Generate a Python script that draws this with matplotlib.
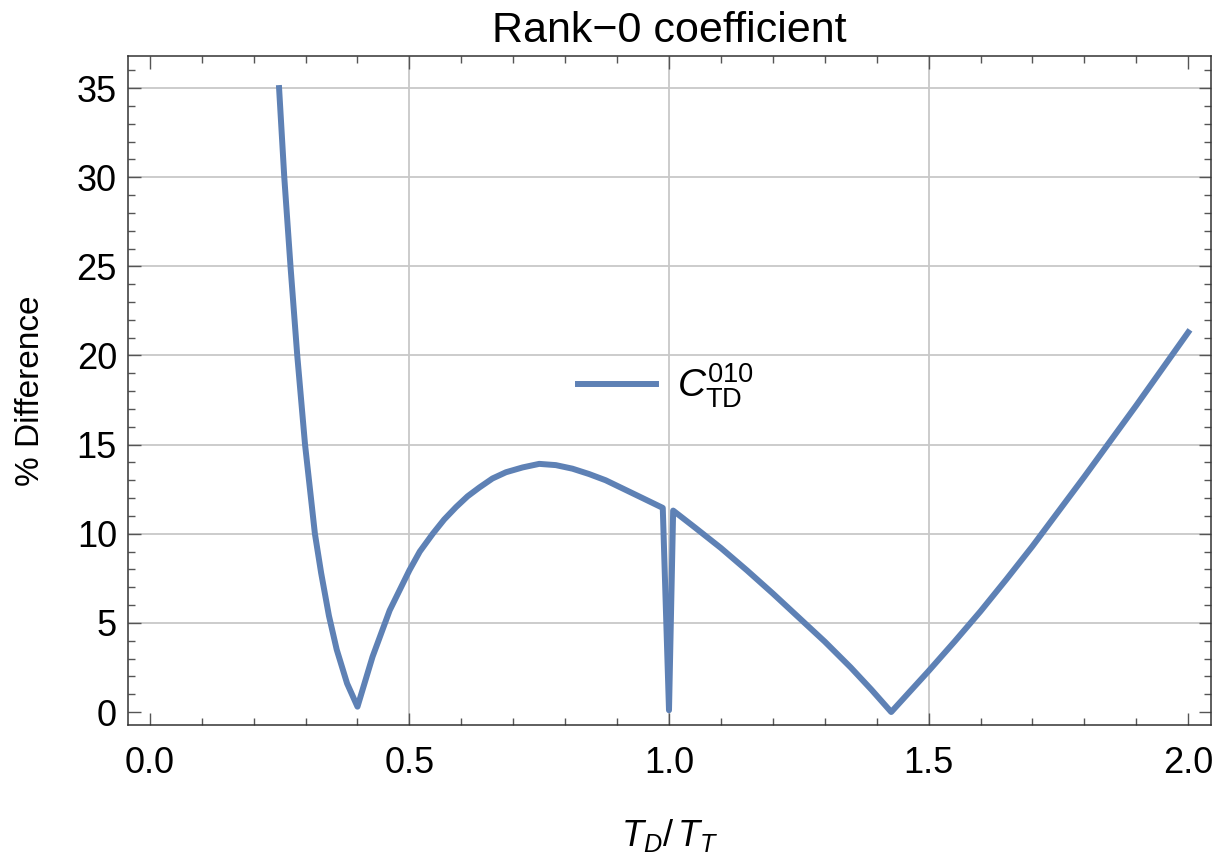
import matplotlib
matplotlib.use('Agg')
import matplotlib.pyplot as plt
from matplotlib.ticker import MultipleLocator, FormatStrFormatter

plt.rcParams['font.family'] = ['Liberation Sans', 'DejaVu Sans']
plt.rcParams['mathtext.fontset'] = 'custom'
plt.rcParams['mathtext.rm'] = 'Liberation Sans'
plt.rcParams['mathtext.it'] = 'Liberation Sans:italic'

# T_D / T_T ratio and % difference
ratio = [0.249, 0.259, 0.271, 0.284, 0.299, 0.318, 0.330, 0.345, 0.360, 0.380, 0.400,
         0.429, 0.462, 0.500, 0.520, 0.545, 0.567, 0.590, 0.612, 0.635, 0.660,
         0.686, 0.718, 0.750, 0.782, 0.814, 0.846, 0.878, 0.910, 0.942, 0.988,
         1.000, 1.008,
         1.050, 1.100, 1.150, 1.200, 1.250, 1.300, 1.350, 1.390, 1.428,
         1.500, 1.550, 1.600, 1.650, 1.700, 1.750, 1.800, 1.850, 1.900, 1.950, 2.000]
diff = [35.0, 30.0, 25.0, 20.0, 15.0, 10.0, 7.8, 5.4, 3.5, 1.6, 0.3,
        3.1, 5.7, 7.95, 9.0, 10.0, 10.8, 11.5, 12.1, 12.6, 13.1,
        13.45, 13.72, 13.92, 13.85, 13.65, 13.35, 13.0, 12.55, 12.1, 11.45,
        0.1, 11.3,
        10.35, 9.2, 7.95, 6.65, 5.3, 3.95, 2.5, 1.25, 0.0,
        2.3, 3.95, 5.65, 7.45, 9.3, 11.25, 13.2, 15.2, 17.2, 19.25, 21.3]

x_grid = [0.5, 1.0, 1.5]
y_grid = [5, 10, 15, 20, 25, 30, 35]

fig = plt.figure(figsize=(12.26, 8.56), dpi=100)
ax = fig.add_axes([0.1044, 0.153, 0.8834, 0.7816])

# grid only at the inner major ticks
for g in x_grid:
    ax.axvline(g, color='#c8c8c8', lw=1.3, zorder=0)
for g in y_grid:
    ax.axhline(g, color='#c8c8c8', lw=1.3, zorder=0)

ax.plot(ratio, diff, color='#5e81b5', lw=4.3, label=r'$C_{\mathrm{TD}}^{010}$', zorder=3)

ax.set_xlim(-0.042, 2.044)
ax.set_ylim(-0.73, 36.8)
ax.xaxis.set_major_locator(MultipleLocator(0.5))
ax.xaxis.set_minor_locator(MultipleLocator(0.1))
ax.yaxis.set_major_locator(MultipleLocator(5))
ax.yaxis.set_minor_locator(MultipleLocator(1))
ax.xaxis.set_major_formatter(FormatStrFormatter('%.1f'))

ax.tick_params(which='both', direction='in', top=True, right=True,
               color='#555555', width=1.0, labelsize=26)
ax.tick_params(which='major', length=9)
ax.tick_params(which='minor', length=5)
ax.tick_params(axis='x', which='major', pad=15)
ax.tick_params(axis='y', which='major', pad=8)
for s in ax.spines.values():
    s.set_color('#333333')
    s.set_linewidth(1.1)

ax.set_title('Rank\u22120 coefficient', fontsize=31, pad=10)
ax.set_ylabel('% Difference', fontsize=24, labelpad=22)
ax.set_xlabel(r'$T_D/\,T_T$', fontsize=26, labelpad=26)

ax.legend(loc='center left', bbox_to_anchor=(0.4155, 0.507), frameon=False,
          fontsize=28, handlelength=2.0, handletextpad=0.55,
          borderpad=0, borderaxespad=0)

fig.savefig('out.png', dpi=100)
